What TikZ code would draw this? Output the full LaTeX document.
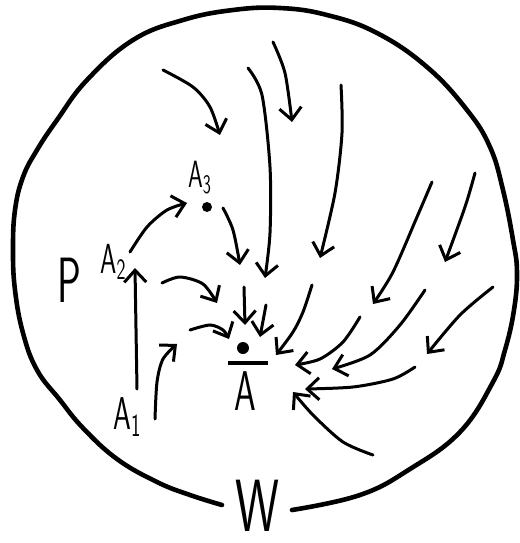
\documentclass[tikz,border=0pt]{standalone}
\usepackage{fontspec}
\usepackage{tikz}
\usetikzlibrary{arrows.meta}
\tikzset{
  rim/.style   = {line width=2.3pt, line cap=round, line join=round},  % the outline
  flow/.style  = {line width=1.5pt, line cap=round,
                  -{Straight Barb[length=6pt, width=11pt, line width=1.5pt]}},
  spot/.style  = {circle, fill=black, inner sep=0pt, minimum size=#1},
  hand/.style  = {inner sep=0pt, xscale=0.62,
                  font=\sffamily\fontsize{#1}{#1}\selectfont}
}
\begin{document}
\begin{tikzpicture}[x=0.5pt, y=-0.5pt]
  \useasboundingbox (0,0) rectangle (520,543);
  % outline, open at the bottom
  \draw[rim] plot[smooth, tension=0.7] coordinates {
    (222,505) (190,495) (157,482) (117,459) (83,428) (60,400) (37,370)
    (23,333) (15,290) (13,250) (15,210) (23,177) (37,150) (57,120)
    (87,80) (133,40) (183,20) (233,10) (280,8) (327,15) (377,33)
    (427,67) (467,110) (490,147) (503,190) (513,240) (517,272)
    (514,310) (505,350) (493,382) (460,432) (410,469) (360,495)
    (292,510)};
  % labels and points
  \node[hand=32, anchor=base west] (p) at (57,302) {P};
  \node[hand=23, anchor=base west] (a1) at (113,429) {A\textsubscript{1}};
  \node[hand=21, anchor=base west] (a2) at (100,273) {A\textsubscript{2}};
  \node[hand=19, anchor=base west] (a3) at (188,187) {A\textsubscript{3}};
  \node[spot=5pt] (a3dot) at (207,207) {};
  \node[spot=6pt] (adot) at (243,348) {};
  \draw[line width=1.7pt] (228,363) -- (268,363);
  \node[hand=28, anchor=base] (a) at (245,410) {A};
  \node[hand=37, anchor=base, xscale=1.08] (w) at (257,531) {W};
  % chain A1 -> A2 -> A3 -> A
  \draw[flow] (137,389) -- (135,268);
  \draw[flow] plot[smooth] coordinates {(130,252) (147,227) (167,210) (187,203)};
  \draw[flow] plot[smooth] coordinates {(223,208) (233,230) (240,265)};
  % left side
  \draw[flow] plot[smooth] coordinates {(162,283) (180,277) (203,284) (217,303)};
  \draw[flow] plot[smooth] coordinates {(190,330) (210,325) (223,330) (229,339)};
  \draw[flow] plot[smooth] coordinates {(155,419) (157,382) (163,359) (177,344)};
  \draw[flow] (244,287) -- (245,325);
  \draw[flow] (266,305) -- (260,337);
  % from the top
  \draw[flow] plot[smooth] coordinates {(163,70) (193,87) (210,107) (220,135)};
  \draw[flow] plot[smooth] coordinates {(248,68) (262,95) (270,167) (270,233) (265,278)};
  \draw[flow] plot[smooth] coordinates {(273,42) (285,73) (292,122)};
  \draw[flow] plot[smooth] coordinates {(341,85) (342,133) (335,193) (320,258)};
  % from the right
  \draw[flow] plot[smooth] coordinates {(312,285) (303,312) (293,332) (276,355)};
  \draw[flow] plot[smooth] coordinates {(432,182) (417,217) (393,272) (373,304)};
  \draw[flow] plot[smooth] coordinates {(475,173) (465,207) (445,262)};
  \draw[flow] plot[smooth] coordinates {(360,317) (343,342) (320,359) (295,365)};
  \draw[flow] plot[smooth] coordinates {(425,290) (400,325) (370,355) (332,369)};
  \draw[flow] plot[smooth] coordinates {(493,287) (460,315) (427,354)};
  \draw[flow] plot[smooth] coordinates {(415,367) (393,379) (353,387) (305,389)};
  \draw[flow] plot[smooth] coordinates {(373,455) (343,442) (313,415) (293,392)};
\end{tikzpicture}
\end{document}
